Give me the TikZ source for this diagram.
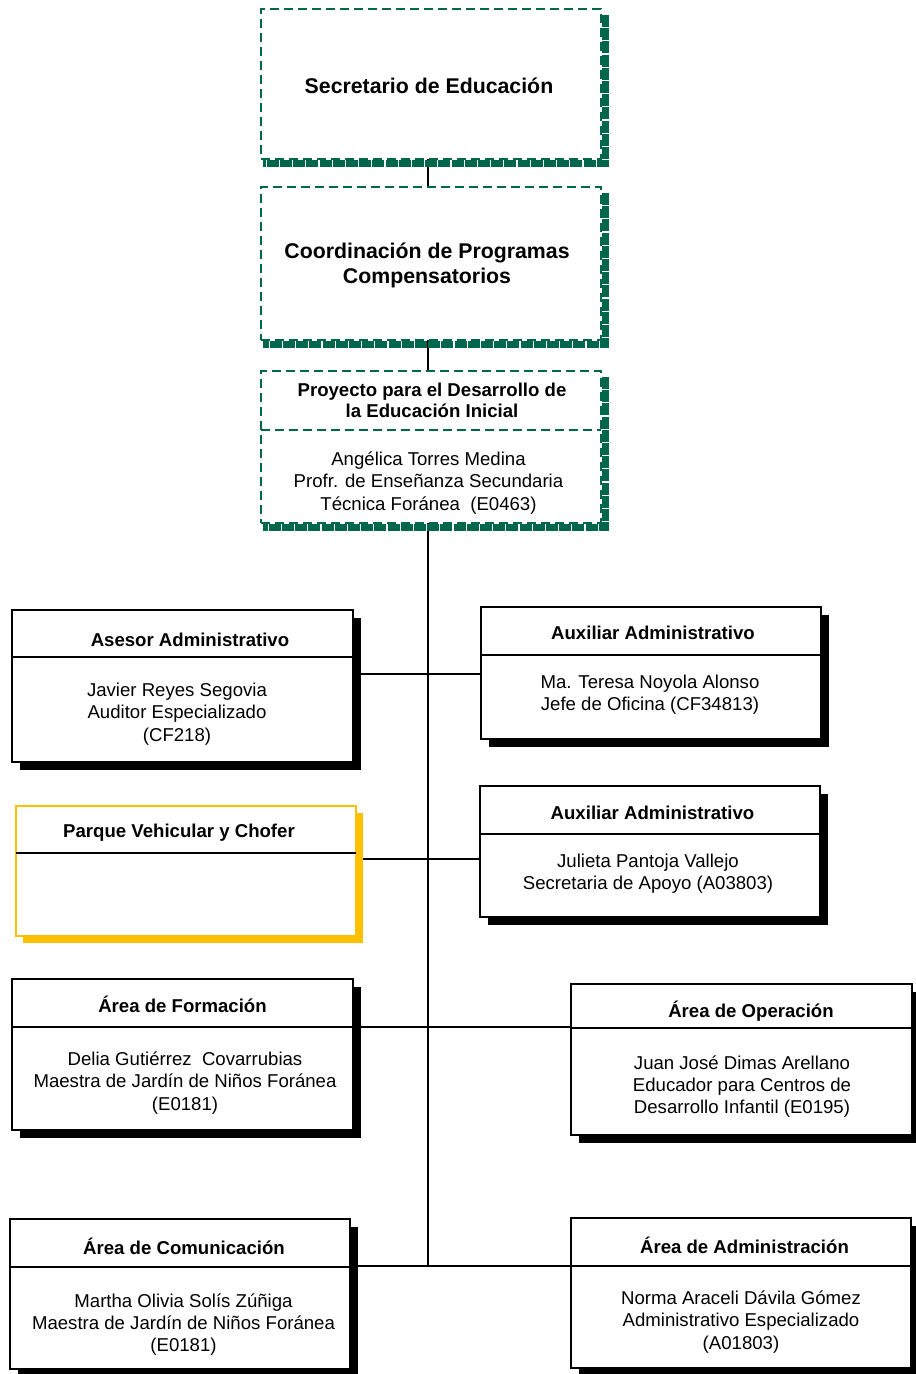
\documentclass[tikz,border=0pt]{standalone}
\usepackage{fontspec}
\setmainfont{Liberation Sans}
\usetikzlibrary{shadows}
\definecolor{dg}{RGB}{0,102,76}
\definecolor{yl}{RGB}{255,192,0}
\newcommand\mkbox[6]{\node[#6, minimum width={#4-#2}, minimum height={#5-#3}] (#1) at ({(#2+#4)/2},{(#3+#5)/2}) {};}
\begin{document}
\begin{tikzpicture}[x=1pt,y=-1pt,
  gbox/.style={draw=dg, line width=2.2pt, dash pattern=on 9pt off 5pt, fill=white, inner sep=0pt, outer sep=0pt},
  kbox/.style={draw=black, line width=2pt, fill=white, inner sep=0pt, outer sep=0pt,
     drop shadow={shadow xshift=8pt, shadow yshift=-8pt, opacity=1, fill=black}},
  ybox/.style={draw=yl, line width=2pt, fill=white, inner sep=0pt, outer sep=0pt,
     drop shadow={shadow xshift=7pt, shadow yshift=-7pt, opacity=1, fill=yl}},
  gshadow/.style={draw=dg, line width=7pt, dash pattern=on 12pt off 1.2pt},
  gdiv/.style={draw=dg, line width=2.2pt, dash pattern=on 9pt off 5pt},
  kdiv/.style={draw=black, line width=2pt},
  conn/.style={draw=black, line width=1.5pt},
  tt/.style={font=\fontsize{21.3}{25}\selectfont\bfseries, align=center, inner sep=0pt},
  hd/.style={font=\fontsize{18.6}{21.5}\selectfont\bfseries, align=center, inner sep=0pt},
  bd/.style={font=\fontsize{18.6}{22.3}\selectfont, align=center, inner sep=0pt}]
\useasboundingbox (0,0) rectangle (916,1374);
% connectors
\draw[conn] (428,159) -- (428,187);
\draw[conn] (428,340) -- (428,371);
\draw[conn] (428,523) -- (428,1266) coordinate (trunkend);
\draw[conn] (353,674) -- (481,674);
\draw[conn] (356,859) -- (480,859);
\draw[conn] (353,1027) -- (571,1027);
\draw[conn] (350,1266) -- (571,1266);
% green boxes
\mkbox{s1}{261}{9}{601}{159}{gbox}
\draw[gshadow] ([xshift=4.5pt,yshift=-6pt]s1.north east) -- ([xshift=4.5pt,yshift=-4.5pt]s1.south east) -- ([xshift=2pt,yshift=-4.5pt]s1.south west);
\node[tt] (s1t) at (429,86) {Secretario de Educación};
\mkbox{s2}{261}{187}{601}{340}{gbox}
\draw[gshadow] ([xshift=4.5pt,yshift=-6pt]s2.north east) -- ([xshift=4.5pt,yshift=-4.5pt]s2.south east) -- ([xshift=2pt,yshift=-4.5pt]s2.south west);
\node[tt] (s2t) at (427,265.5) {Coordinación de Programas\\Compensatorios};
\mkbox{p3}{261}{371}{601}{523}{gbox}
\draw[gshadow] ([xshift=4.5pt,yshift=-6pt]p3.north east) -- ([xshift=4.5pt,yshift=-4.5pt]p3.south east) -- ([xshift=2pt,yshift=-4.5pt]p3.south west);
\draw[gdiv] (261,430) -- (601,430);
\node[hd] (p3h) at (432,400.5) {Proyecto para el Desarrollo de\\la Educación Inicial};
\node[bd] (p3b) at (428.5,483) {Angélica Torres Medina\\Profr. de Enseñanza Secundaria\\Técnica Foránea\ \ (E0463)};
% Asesor
\mkbox{ase}{12}{610}{353}{762}{kbox}
\draw[kdiv] (ase.west |- 0,657) -- (ase.east |- 0,657);
\node[hd] (aseh) at (190,640) {Asesor Administrativo};
\node[bd] (aseb) at (177,714) {Javier Reyes Segovia\\Auditor Especializado\\(CF218)};
% Auxiliar 1
\mkbox{ax1}{481}{607}{821}{739}{kbox}
\draw[kdiv] (ax1.west |- 0,655) -- (ax1.east |- 0,655);
\node[hd] (ax1h) at (653,633) {Auxiliar Administrativo};
\node[bd] (ax1b) at (650,695) {Ma. Teresa Noyola Alonso\\Jefe de Oficina (CF34813)};
% Parque
\mkbox{par}{16}{806}{356}{936}{ybox}
\draw[kdiv] (par.west |- 0,853) -- (par.east |- 0,853);
\node[hd] (parh) at (179,832.5) {Parque Vehicular y Chofer};
% Auxiliar 2
\mkbox{ax2}{480}{786}{820}{917}{kbox}
\draw[kdiv] (ax2.west |- 0,834) -- (ax2.east |- 0,834);
\node[hd] (ax2h) at (652.5,812.5) {Auxiliar Administrativo};
\node[bd] (ax2b) at (648,874) {Julieta Pantoja Vallejo\\Secretaria de Apoyo (A03803)};
% Formacion
\mkbox{for}{12}{979}{353}{1130}{kbox}
\draw[kdiv] (for.west |- 0,1027) -- (for.east |- 0,1027);
\node[hd] (forh) at (182.5,1004) {Área de Formación};
\node[bd] (forb) at (185,1083) {Delia Gutiérrez\ \ Covarrubias\\Maestra de Jardín de Niños Foránea\\(E0181)};
% Operacion
\mkbox{ope}{571}{984}{912}{1135}{kbox}
\draw[kdiv] (ope.west |- 0,1028) -- (ope.east |- 0,1028);
\node[hd] (opeh) at (751,1011.5) {Área de Operación};
\node[bd] (opeb) at (742,1086.5) {Juan José Dimas Arellano\\Educador para Centros de\\Desarrollo Infantil (E0195)};
% Comunicacion
\mkbox{com}{10}{1219}{350}{1369}{kbox}
\draw[kdiv] (com.west |- 0,1267) -- (com.east |- 0,1267);
\node[hd] (comh) at (184,1246) {Área de Comunicación};
\node[bd] (comb) at (183.5,1324.5) {Martha Olivia Solís Zúñiga\\Maestra de Jardín de Niños Foránea\\(E0181)};
% Administracion
\mkbox{adm}{571}{1218}{911}{1368}{kbox}
\draw[kdiv] (adm.west |- 0,1266) -- (adm.east |- 0,1266);
\node[hd] (admh) at (744.5,1245.5) {Área de Administración};
\node[bd] (admb) at (741,1322) {Norma Araceli Dávila Gómez\\Administrativo Especializado\\(A01803)};
\end{tikzpicture}
\end{document}
